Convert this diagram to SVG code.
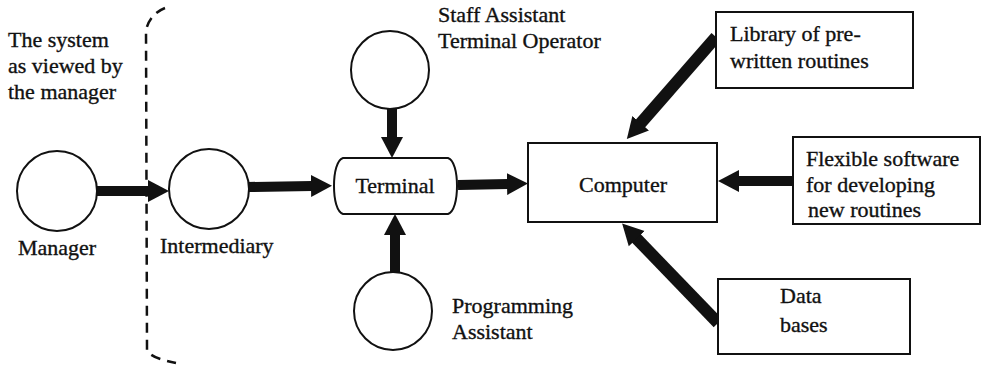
<svg xmlns="http://www.w3.org/2000/svg" width="981" height="367" viewBox="0 0 981 367">
  <style>
    text { font-family: "Liberation Serif", "Times New Roman", serif; font-size: 22px; fill: #111; stroke: #111; stroke-width: 0.35; }
    .node { fill: #fff; stroke: #111; stroke-width: 2; }
    .flow { stroke: #111; stroke-width: 10; fill: none; marker-end: url(#head); }
    .bracket { fill: none; stroke: #111; stroke-width: 2.5; stroke-dasharray: 10 7; }
  </style>
  <defs>
    <marker id="head" markerUnits="userSpaceOnUse" markerWidth="22" markerHeight="24" refX="1" refY="12" orient="auto">
      <path d="M0,1 L21,12 L0,23 Z" fill="#111"/>
    </marker>
  </defs>

  <!-- boundary of the manager's view -->
  <g id="view-boundary">
    <path class="bracket" d="M165,8 Q150,14 146,30 L147,350 Q150,358 176,363"/>
    <text x="8" y="47">The system</text>
    <text x="8" y="73">as viewed by</text>
    <text x="8" y="99">the manager</text>
  </g>

  <g id="connectors">
    <line class="flow" x1="97" y1="191" x2="149" y2="191"/>
    <line class="flow" x1="248" y1="187" x2="312" y2="186"/>
    <line class="flow" x1="392" y1="108" x2="392" y2="138"/>
    <line class="flow" x1="395" y1="272" x2="395" y2="234"/>
    <line class="flow" x1="458" y1="185" x2="508" y2="184"/>
    <line class="flow" x1="716" y1="37" x2="640" y2="124" style="stroke-width:12"/>
    <line class="flow" x1="793" y1="181" x2="738" y2="181"/>
    <line class="flow" x1="718" y1="323" x2="636" y2="238" style="stroke-width:12"/>
  </g>

  <g id="manager">
    <circle class="node" cx="57" cy="191" r="40"/>
    <text x="18" y="255">Manager</text>
  </g>

  <g id="intermediary">
    <circle class="node" cx="209" cy="189" r="40"/>
    <text x="160" y="253">Intermediary</text>
  </g>

  <g id="staff-assistant">
    <circle class="node" cx="390" cy="70" r="39"/>
    <text x="438" y="22">Staff Assistant</text>
    <text x="438" y="48">Terminal Operator</text>
  </g>

  <g id="programming-assistant">
    <circle class="node" cx="393" cy="311" r="39"/>
    <text x="452" y="313">Programming</text>
    <text x="452" y="339">Assistant</text>
  </g>

  <g id="terminal">
    <path class="node" d="M343,158 H448 C454,160 457,172 457,186 C457,200 454,212 448,214 H343 C337,212 334,200 334,186 C334,172 337,160 343,158 Z"/>
    <text x="395" y="193" text-anchor="middle">Terminal</text>
  </g>

  <g id="computer">
    <rect class="node" x="528" y="143" width="189" height="79"/>
    <text x="623" y="192" text-anchor="middle">Computer</text>
  </g>

  <g id="library">
    <rect class="node" x="716" y="12" width="197" height="76"/>
    <text x="730" y="41">Library of  pre-</text>
    <text x="730" y="68">written routines</text>
  </g>

  <g id="flexible-software">
    <rect class="node" x="793" y="137" width="187" height="87"/>
    <text x="806" y="166">Flexible software</text>
    <text x="806" y="192">for developing</text>
    <text x="808" y="217">new routines</text>
  </g>

  <g id="data-bases">
    <rect class="node" x="718" y="279" width="192" height="75"/>
    <text x="780" y="303">Data</text>
    <text x="780" y="332">bases</text>
  </g>
</svg>
